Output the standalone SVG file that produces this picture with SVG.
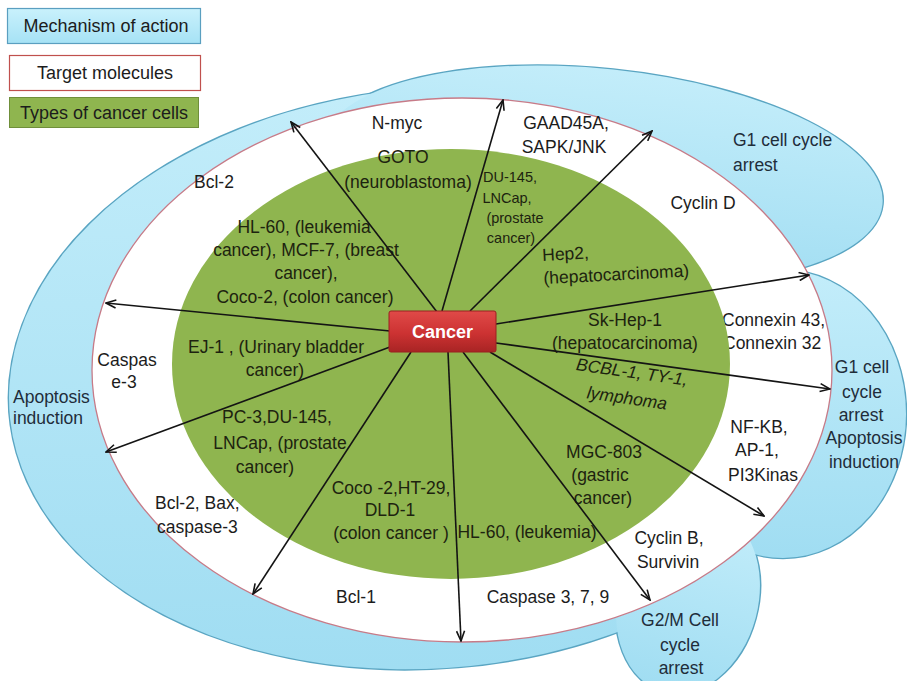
<svg xmlns="http://www.w3.org/2000/svg" xmlns:xlink="http://www.w3.org/1999/xlink" width="907" height="681" viewBox="0 0 907 681">
  <style>
    text { font-family: "Liberation Sans", Arial, sans-serif; font-size: 17.5px; fill: #1c1c1c; }
    .mid { text-anchor: middle; }
    .legend { font-size: 18px; }
    .small { font-size: 14.5px; }
    .ital { font-style: italic; }
    .onGreen { fill: #1d230f; }
    .onBlue { fill: #1f2d3a; }
    .blueEdge { fill: url(#blueFill); stroke: #5aa5c2; stroke-width: 2.6; }
    .blueBody { fill: url(#blueFill); stroke: none; }
    .arrow { fill: none; stroke: #141414; stroke-width: 1.6; marker-end: url(#ah); }
  </style>
  <defs>
    <linearGradient id="blueFill" x1="0" y1="0" x2="0" y2="1">
      <stop offset="0" stop-color="#c3edfa"/>
      <stop offset="1" stop-color="#a0ddf2"/>
    </linearGradient>
    <linearGradient id="legendBlue" x1="0" y1="0" x2="0" y2="1">
      <stop offset="0" stop-color="#c9f1fc"/>
      <stop offset="1" stop-color="#a6e2f5"/>
    </linearGradient>
    <linearGradient id="redBox" x1="0" y1="0" x2="0" y2="1">
      <stop offset="0" stop-color="#e04a48"/>
      <stop offset="0.55" stop-color="#cc3232"/>
      <stop offset="1" stop-color="#a82424"/>
    </linearGradient>
    <marker id="ah" viewBox="0 0 12 10" refX="11" refY="5" markerWidth="12" markerHeight="10" markerUnits="userSpaceOnUse" orient="auto">
      <path d="M1,1 L11,5 L1,9" fill="none" stroke="#141414" stroke-width="1.6"/>
    </marker>
    <!-- outer "mechanism of action" lobes -->
    <path id="lobeMain" d="M484,87 A427,290 -5 1 0 638,624 Z"/>
    <ellipse id="lobeTop" cx="602" cy="175" rx="282" ry="106" transform="rotate(6 602 175)"/>
    <ellipse id="lobeRight" cx="783" cy="414" rx="123" ry="144"/>
    <ellipse id="lobeBottom" cx="688" cy="600" rx="70" ry="95" transform="rotate(15 688 600)"/>
  </defs>

  <rect width="907" height="681" fill="#ffffff"/>

  <!-- legend -->
  <g id="legend-mechanism">
    <rect x="7.5" y="8.5" width="193" height="35" fill="url(#legendBlue)" stroke="#5a9fc0" stroke-width="1.2"/>
    <text class="mid legend" x="106" y="32">Mechanism of action</text>
  </g>
  <g id="legend-targets">
    <rect x="9.5" y="55.5" width="191" height="35" fill="#ffffff" stroke="#c0504d" stroke-width="1.2"/>
    <text class="mid legend" x="105" y="79">Target molecules</text>
  </g>
  <g id="legend-cells">
    <rect x="9.5" y="97.5" width="189" height="30" fill="#8fb54f" stroke="#6f8f3a" stroke-width="1"/>
    <text class="mid legend" x="104" y="119">Types of cancer cells</text>
  </g>

  <!-- outer ring: mechanism of action -->
  <g id="mechanism-ring">
    <use xlink:href="#lobeMain" class="blueEdge"/>
    <use xlink:href="#lobeTop" class="blueEdge"/>
    <use xlink:href="#lobeRight" class="blueEdge"/>
    <use xlink:href="#lobeBottom" class="blueEdge"/>
    <use xlink:href="#lobeMain" class="blueBody"/>
    <use xlink:href="#lobeTop" class="blueBody"/>
    <use xlink:href="#lobeRight" class="blueBody"/>
    <use xlink:href="#lobeBottom" class="blueBody"/>
    <text class="onBlue" x="733" y="146">G1 cell cycle</text>
    <text class="onBlue" x="733" y="171">arrest</text>
    <text class="onBlue" x="13" y="403">Apoptosis</text>
    <text class="onBlue" x="13" y="424">induction</text>
    <text class="onBlue mid" x="862" y="373">G1 cell</text>
    <text class="onBlue mid" x="862" y="398">cycle</text>
    <text class="onBlue mid" x="861" y="421">arrest</text>
    <text class="onBlue mid" x="864" y="444">Apoptosis</text>
    <text class="onBlue mid" x="864" y="468">induction</text>
    <text class="onBlue mid" x="680" y="626">G2/M Cell</text>
    <text class="onBlue mid" x="680" y="651">cycle</text>
    <text class="onBlue mid" x="681" y="674">arrest</text>
  </g>

  <!-- middle ring: target molecules -->
  <g id="target-ring">
    <ellipse cx="462" cy="370" rx="370" ry="272" fill="#ffffff" stroke="#c77b88" stroke-width="1.3"/>
    <text class="mid" x="397" y="129">N-myc</text>
    <text class="mid" x="566" y="129">GAAD45A,</text>
    <text class="mid" x="564" y="153">SAPK/JNK</text>
    <text class="mid" x="703" y="209">Cyclin D</text>
    <text class="mid" x="214" y="188">Bcl-2</text>
    <text class="mid" x="127" y="366">Caspas</text>
    <text class="mid" x="124" y="388">e-3</text>
    <text x="722" y="326">Connexin 43,</text>
    <text x="723" y="349">Connexin 32</text>
    <text class="mid" x="759" y="433">NF-KB,</text>
    <text class="mid" x="757" y="456">AP-1,</text>
    <text class="mid" x="763" y="481">PI3Kinas</text>
    <text x="155" y="509">Bcl-2, Bax,</text>
    <text x="157" y="533">caspase-3</text>
    <text class="mid" x="669" y="544">Cyclin B,</text>
    <text class="mid" x="668" y="568">Survivin</text>
    <text class="mid" x="548" y="603">Caspase 3, 7, 9</text>
    <text class="mid" x="356" y="603">Bcl-1</text>
  </g>

  <!-- inner ring: types of cancer cells -->
  <g id="cell-ring">
    <ellipse cx="451" cy="364" rx="279" ry="215" fill="#8fb54f"/>
    <text class="mid onGreen" x="403" y="163">GOTO</text>
    <text class="mid onGreen" x="408" y="188">(neuroblastoma)</text>
    <text class="mid onGreen small" x="510" y="182">DU-145,</text>
    <text class="mid onGreen small" x="507" y="203">LNCap,</text>
    <text class="mid onGreen small" x="515" y="223">(prostate</text>
    <text class="mid onGreen small" x="511" y="243">cancer)</text>
    <g transform="rotate(-3 543 270)">
      <text class="onGreen" x="543" y="261">Hep2,</text>
      <text class="onGreen" x="543" y="284">(hepatocarcinoma)</text>
    </g>
    <text class="mid onGreen" x="304" y="233">HL-60, (leukemia</text>
    <text class="mid onGreen" x="306" y="256">cancer), MCF-7, (breast</text>
    <text class="mid onGreen" x="306" y="279">cancer),</text>
    <text class="mid onGreen" x="305" y="303">Coco-2, (colon cancer)</text>
    <text class="mid onGreen" x="276" y="353">EJ-1 , (Urinary bladder</text>
    <text class="mid onGreen" x="275" y="376">cancer)</text>
    <text class="mid onGreen" x="277" y="423">PC-3,DU-145,</text>
    <text class="mid onGreen" x="280" y="449">LNCap, (prostate</text>
    <text class="mid onGreen" x="265" y="473">cancer)</text>
    <text class="mid onGreen" x="625" y="326">Sk-Hep-1</text>
    <text class="mid onGreen" x="625" y="349">(hepatocarcinoma)</text>
    <text class="mid onGreen ital" x="632" y="378" transform="rotate(8 632 372)">BCBL-1, TY-1,</text>
    <text class="mid onGreen ital" x="627" y="404" transform="rotate(8 627 398)">lymphoma</text>
    <text class="mid onGreen" x="604" y="458">MGC-803</text>
    <text class="mid onGreen" x="600" y="481">(gastric</text>
    <text class="mid onGreen" x="603" y="504">cancer)</text>
    <text class="mid onGreen" x="391" y="494">Coco -2,HT-29,</text>
    <text class="mid onGreen" x="390" y="516">DLD-1</text>
    <text class="mid onGreen" x="391" y="539">(colon cancer )</text>
    <text class="mid onGreen" x="527" y="538">HL-60, (leukemia)</text>
  </g>

  <!-- connectors radiating from the centre -->
  <g id="connectors">
    <line class="arrow" x1="437" y1="312" x2="291" y2="122"/>
    <line class="arrow" x1="442" y1="311" x2="503" y2="100"/>
    <line class="arrow" x1="470" y1="311" x2="652" y2="131"/>
    <line class="arrow" x1="496" y1="324" x2="809" y2="275"/>
    <line class="arrow" x1="496" y1="343" x2="830" y2="389"/>
    <line class="arrow" x1="490" y1="352" x2="764" y2="516"/>
    <line class="arrow" x1="463" y1="352" x2="650" y2="600"/>
    <line class="arrow" x1="448" y1="352" x2="461" y2="641"/>
    <line class="arrow" x1="411" y1="352" x2="253" y2="594"/>
    <line class="arrow" x1="390" y1="347" x2="106" y2="452"/>
    <line class="arrow" x1="390" y1="331" x2="106" y2="303"/>
  </g>

  <!-- centre node -->
  <g id="cancer">
    <rect x="389" y="311" width="107" height="41" rx="2" fill="url(#redBox)" stroke="#9a2020" stroke-width="1"/>
    <text class="mid" x="442.5" y="338" style="fill:#ffffff;font-weight:bold;font-size:18px">Cancer</text>
  </g>
</svg>
